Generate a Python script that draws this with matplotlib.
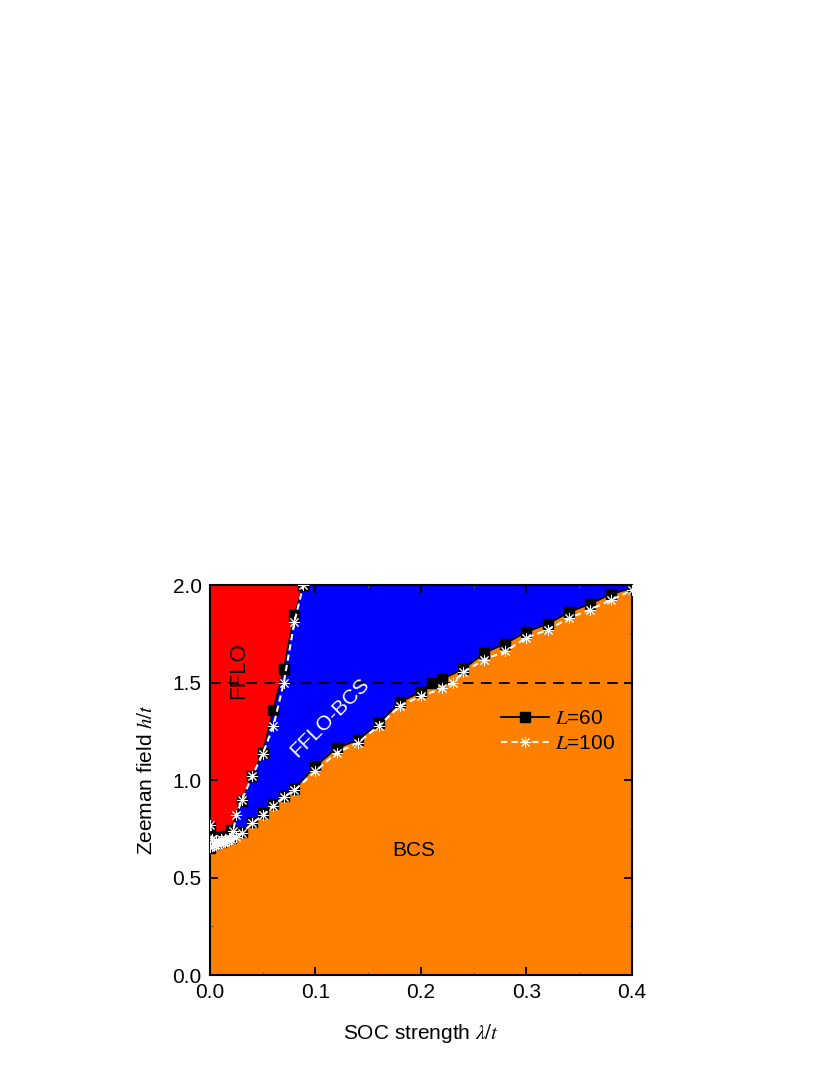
import numpy as np
import matplotlib
matplotlib.use("Agg")
import matplotlib.pyplot as plt

plt.rcParams['font.family'] = ['Liberation Sans', 'DejaVu Sans']
plt.rcParams['mathtext.fontset'] = 'stix'

# L=60, FFLO | FFLO-BCS boundary
x60_up = [0.0, 0.005, 0.01, 0.015, 0.02, 0.03, 0.04, 0.05, 0.06, 0.07, 0.08, 0.0885]
h60_up = [0.76, 0.71, 0.71, 0.715, 0.745, 0.89, 1.02, 1.14, 1.36, 1.57, 1.845, 2.0]

# L=60, FFLO-BCS | BCS boundary
x60_lo = [0.0, 0.005, 0.01, 0.015, 0.02, 0.03, 0.04, 0.05, 0.06, 0.07, 0.08, 0.10,
          0.12, 0.14, 0.16, 0.18, 0.20, 0.21, 0.22, 0.24, 0.26, 0.28, 0.30, 0.32,
          0.34, 0.36, 0.38, 0.40]
h60_lo = [0.65, 0.67, 0.68, 0.69, 0.705, 0.735, 0.785, 0.83, 0.875, 0.92, 0.955, 1.072,
          1.163, 1.205, 1.29, 1.40, 1.453, 1.50, 1.518, 1.569, 1.651, 1.70, 1.76, 1.80,
          1.86, 1.903, 1.953, 1.985]

# L=100, FFLO | FFLO-BCS boundary
x100_up = [0.0, 0.002, 0.006, 0.01, 0.014, 0.018, 0.022, 0.025, 0.03, 0.04, 0.05,
           0.06, 0.07, 0.08, 0.0885]
h100_up = [0.77, 0.70, 0.69, 0.695, 0.70, 0.705, 0.74, 0.82, 0.895, 1.02, 1.135,
           1.275, 1.50, 1.81, 2.0]

# L=100, FFLO-BCS | BCS boundary
x100_lo = [0.0, 0.002, 0.004, 0.006, 0.008, 0.01, 0.012, 0.014, 0.016, 0.018, 0.02,
           0.025, 0.03, 0.04, 0.05, 0.06, 0.07, 0.08, 0.10, 0.12, 0.14, 0.16, 0.18,
           0.20, 0.22, 0.23, 0.24, 0.26, 0.28, 0.30, 0.32, 0.34, 0.36, 0.38, 0.40]
h100_lo = [0.655, 0.66, 0.665, 0.665, 0.67, 0.675, 0.68, 0.68, 0.685, 0.69, 0.695,
           0.71, 0.727, 0.778, 0.82, 0.867, 0.913, 0.947, 1.045, 1.14, 1.19, 1.277, 1.38,
           1.43, 1.47, 1.50, 1.552, 1.618, 1.66, 1.73, 1.77, 1.829, 1.873, 1.923, 1.972]

h_cut = 1.5

fig = plt.figure(figsize=(8.3, 10.75), dpi=100)
ax = fig.add_axes([0.253, 0.093, 0.5084, 0.3628])

# phase regions
ax.fill_between(x60_lo, h60_lo, 2.0, color='#0000ff', lw=0, zorder=0)
ax.fill_between(x60_up, h60_up, 2.0, color='#ff0000', lw=0, zorder=0.5)
ax.fill_between(x60_lo, 0, h60_lo, color='#ff8000', lw=0, zorder=0.6)

ax.axhline(h_cut, color='black', ls=(0, (6, 4)), lw=1.3, zorder=2)

star = (8, 2, 0)
ax.plot(x60_up, h60_up, '-', color='black', lw=1.3, marker='s', ms=6.5, zorder=3,
        label='$L$=60')
ax.plot(x60_lo, h60_lo, '-', color='black', lw=1.3, marker='s', ms=6.5, zorder=3)
ax.plot(x100_up, h100_up, color='white', ls=(0, (3, 2)), lw=1.5, marker=star, ms=8,
        mec='white', mew=0.7, zorder=4, label='$L$=100')
ax.plot(x100_lo, h100_lo, color='white', ls=(0, (3, 2)), lw=1.5, marker=star, ms=8,
        mec='white', mew=0.7, zorder=4)

ax.text(0.027, 1.56, 'FFLO', rotation=90, ha='center', va='center', fontsize=16)
ax.text(0.114, 1.32, 'FFLO-BCS', rotation=45, ha='center', va='center', fontsize=15,
        color='white')
ax.text(0.193, 0.64, 'BCS', ha='center', va='center', fontsize=15)

ax.set_xlim(0, 0.4)
ax.set_ylim(0, 2.0)
ax.set_xticks(np.arange(0, 0.41, 0.1))
ax.set_yticks(np.arange(0, 2.01, 0.5))
ax.set_xticks(np.arange(0.05, 0.4, 0.1), minor=True)
ax.set_yticks(np.arange(0.25, 2.0, 0.5), minor=True)
ax.tick_params(which='both', direction='in', top=True, right=True, labelsize=15)
ax.tick_params(which='major', length=6, width=1.3, pad=6)
ax.tick_params(which='minor', length=2.5, width=0.6, color='#555555')
for s in ax.spines.values():
    s.set_linewidth(1.5)

ax.set_xlabel(r'SOC strength $\lambda/t$', fontsize=15, labelpad=14)
ax.set_ylabel(r'Zeeman field $h/t$', fontsize=15, labelpad=12)

leg = ax.legend(loc='center left', bbox_to_anchor=(0.645, 0.625), frameon=False,
                fontsize=15, handlelength=2.3, handletextpad=0.3, labelspacing=0.3)

fig.savefig('out.png', dpi=100)
